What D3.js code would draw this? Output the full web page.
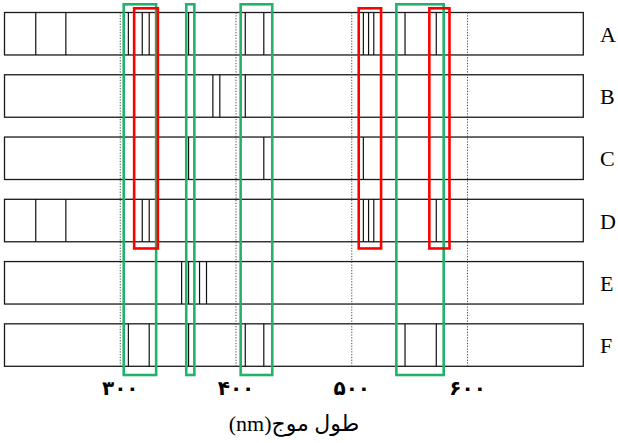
<!DOCTYPE html>
<html>
<head>
<meta charset="utf-8">
<script src="https://cdn.jsdelivr.net/npm/d3@7"></script>
<style>
  body { margin: 0; background: #fff; }
  svg { display: block; }
</style>
</head>
<body>
<div id="chart"></div>
<script>
// samples (rows) and spectral line positions in nm
let samples = ['A', 'B', 'C', 'D', 'E', 'F']
let linesA = [227, 253, 307, 319, 325, 359, 408, 424, 510, 514.5, 519, 546, 573]
let linesB = [380, 386, 408]
let linesC = [359, 424, 510]
let linesD = [227, 253, 319, 325, 510, 514.5, 519, 573]
let linesE = [353, 359, 368.5, 374.5]
let linesF = [307, 325, 359, 408, 424, 546, 573]
let allLines = [linesA, linesB, linesC, linesD, linesE, linesF]

let ticks = [300, 400, 500, 600]
let tickLabels = ['۳۰۰', '۴۰۰', '۵۰۰', '۶۰۰']

// highlighted wavelength ranges
let greenBoxes = [[303, 331], [357, 364], [404, 431.3], [538.5, 579.4]]
let redBoxes = [[312, 332.5], [506, 525.3], [567, 584.4]]
let redRows = ['A', 'D']

let svgWidth = 618
let svgHeight = 443

let svg = d3.select('#chart').append('svg')
    .attr('width', svgWidth)
    .attr('height', svgHeight)

let x = d3.scaleLinear()
    .domain([200, 700])
    .range([4.5, 583.3])

let y = d3.scaleBand()
    .domain(samples)
    .range([12.5, 366.3])
    .paddingInner(0.318)
    .paddingOuter(0)

// row frames
svg.append('g')
    .selectAll('rect')
    .data(samples)
    .enter()
    .append('rect')
    .attr('x', x(200))
    .attr('y', d => y(d))
    .attr('width', x(700) - x(200))
    .attr('height', y.bandwidth())
    .attr('fill', 'none')
    .attr('stroke', '#1a1a1a')
    .attr('stroke-width', 1.3)

// spectral lines
samples.forEach((s, i) => {
    svg.append('g')
        .selectAll('line')
        .data(allLines[i])
        .enter()
        .append('line')
        .attr('x1', d => x(d))
        .attr('x2', d => x(d))
        .attr('y1', y(s))
        .attr('y2', y(s) + y.bandwidth())
        .attr('stroke', '#111')
        .attr('stroke-width', 1.2)
})

// dotted reference lines
svg.append('g')
    .selectAll('line')
    .data(ticks)
    .enter()
    .append('line')
    .attr('x1', d => x(d))
    .attr('x2', d => x(d))
    .attr('y1', y('A'))
    .attr('y2', y('F') + y.bandwidth())
    .attr('stroke', '#444')
    .attr('stroke-width', 1)
    .attr('stroke-dasharray', '1.2,1.6')

// tick labels
svg.append('g')
    .selectAll('text')
    .data(ticks)
    .enter()
    .append('text')
    .attr('x', d => x(d))
    .attr('y', 395)
    .attr('text-anchor', 'middle')
    .attr('font-family', 'DejaVu Sans')
    .attr('font-weight', 'bold')
    .attr('font-size', 20)
    .text((d, i) => tickLabels[i])

// axis title
svg.append('text')
    .attr('x', 294)
    .attr('y', 431)
    .attr('text-anchor', 'middle')
    .attr('font-family', 'Liberation Serif, DejaVu Sans')
    .attr('font-size', 22)
    .text('(nm)طول موج')

// row labels
svg.append('g')
    .selectAll('text')
    .data(samples)
    .enter()
    .append('text')
    .attr('x', 600)
    .attr('y', d => y(d) + y.bandwidth() / 2 + 8)
    .attr('font-family', 'Liberation Serif')
    .attr('font-size', 22)
    .text(d => d)

// green highlight boxes (all rows)
svg.append('g')
    .selectAll('rect')
    .data(greenBoxes)
    .enter()
    .append('rect')
    .attr('x', d => x(d[0]))
    .attr('y', y('A') - 8.2)
    .attr('width', d => x(d[1]) - x(d[0]))
    .attr('height', y('F') + y.bandwidth() + 8.7 - (y('A') - 8.2))
    .attr('fill', 'none')
    .attr('stroke', '#22b36a')
    .attr('stroke-width', 2.6)

// red highlight boxes (rows A to D)
svg.append('g')
    .selectAll('rect')
    .data(redBoxes)
    .enter()
    .append('rect')
    .attr('x', d => x(d[0]))
    .attr('y', y(redRows[0]) - 4.2)
    .attr('width', d => x(d[1]) - x(d[0]))
    .attr('height', y(redRows[1]) + y.bandwidth() + 6.7 - (y(redRows[0]) - 4.2))
    .attr('fill', 'none')
    .attr('stroke', '#ff0000')
    .attr('stroke-width', 2.6)
</script>
</body>
</html>
